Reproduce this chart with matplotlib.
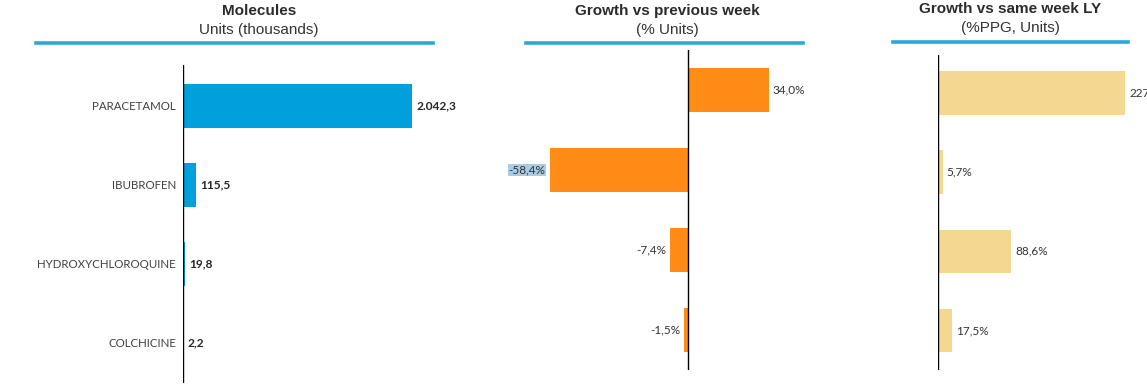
import matplotlib
matplotlib.use("Agg")
import matplotlib.pyplot as plt

categories = ["PARACETAMOL", "IBUBROFEN", "HYDROXYCHLOROQUINE", "COLCHICINE"]
units_thousands = [2042.3, 115.5, 19.8, 2.2]
units_labels = ["2.042,3", "115,5", "19,8", "2,2"]
growth_prev_week = [34.0, -58.4, -7.4, -1.5]
growth_prev_labels = ["34,0%", "-58,4%", "-7,4%", "-1,5%"]
growth_ly = [227.0, 5.7, 88.6, 17.5]
growth_ly_labels = ["227,0%", "5,7%", "88,6%", "17,5%"]

W, H = 1147, 389
fig = plt.figure(figsize=(W / 100, H / 100), dpi=100)
fig.patch.set_facecolor("white")

LABEL_FONT = ["Lato", "DejaVu Sans"]
TITLE_FONT = ["Liberation Sans", "DejaVu Sans"]
BLUE = "#00a0dc"
ORANGE = "#ff8c17"
TAN = "#f5d88f"
LINE_BLUE = "#29a9d9"
TXT = "#333333"


def px_axes(x0, y0, x1, y1):
    # pixel coords (top-left origin) -> figure fraction
    return fig.add_axes([x0 / W, 1 - y1 / H, (x1 - x0) / W, (y1 - y0) / H])


def clean(ax):
    for s in ax.spines.values():
        s.set_visible(False)
    ax.set_xticks([])
    ax.set_yticks([])
    ax.patch.set_alpha(0)


def header(title, sub, cx, ty, sy, lx0, lx1, ly):
    fig.text(cx / W, 1 - ty / H, title, ha="center", va="center",
             fontsize=11, fontweight="bold", color="#2b2b2b", family=TITLE_FONT)
    fig.text(cx / W, 1 - sy / H, sub, ha="center", va="center",
             fontsize=11, color="#333333", family=TITLE_FONT)
    fig.add_artist(plt.Line2D([lx0 / W, lx1 / W], [1 - ly / H, 1 - ly / H],
                              color=LINE_BLUE, lw=2.6, transform=fig.transFigure))


# Panel 1
ax1 = px_axes(183, 65, 470, 383)
clean(ax1)
scale1 = 229 / 2042.3
ax1.set_xlim(0, (470 - 183) / scale1)
ax1.set_ylim(3.506, -0.519)
ypos = list(range(len(categories)))
ax1.barh(ypos, units_thousands, height=0.557, color=BLUE)
ax1.axvline(0, color="black", lw=1)
for i, (v, lab) in enumerate(zip(units_thousands, units_labels)):
    ax1.text(v + 4 / scale1, i, lab, ha="left", va="center", fontsize=8.6,
             fontweight="bold", color="#262626", family=LABEL_FONT)
    ax1.text(-7 / scale1, i, categories[i], ha="right", va="center", fontsize=8.3,
             color="#404040", family=LABEL_FONT, clip_on=False)
header("Molecules", "Units (thousands)", 259, 11, 30, 36, 433, 43)

# Panel 2
ax2 = px_axes(500, 50, 830, 370)
clean(ax2)
scale2 = 2.37
ax2.set_xlim(-(688 - 500) / scale2, (830 - 688) / scale2)
ax2.set_ylim(3.5, -0.5)
ax2.barh(ypos, growth_prev_week, height=0.55, color=ORANGE)
ax2.axvline(0, color="black", lw=1)
for i, (v, lab) in enumerate(zip(growth_prev_week, growth_prev_labels)):
    if v >= 0:
        ax2.text(v + 4 / scale2, i, lab, ha="left", va="center", fontsize=8.5,
                 color=TXT, family=LABEL_FONT)
    else:
        kw = {}
        if i == 1:
            kw["bbox"] = dict(boxstyle="square,pad=0.05", fc="#a9cbe3", ec="none")
        ax2.text(v - 4 / scale2, i, lab, ha="right", va="center", fontsize=8.5,
                 color=TXT, family=LABEL_FONT, **kw)
header("Growth vs previous week", "(% Units)", 667, 11, 30, 526, 803, 43)

# Panel 3
ax3 = px_axes(938, 55, 1147, 370)
clean(ax3)
scale3 = 0.824
ax3.set_xlim(0, (1147 - 938) / scale3)
ax3.set_ylim(3.5, -0.48)
ax3.barh(ypos, growth_ly, height=0.55, color=TAN)
ax3.axvline(0, color="black", lw=1)
for i, (v, lab) in enumerate(zip(growth_ly, growth_ly_labels)):
    ax3.text(v + 4 / scale3, i, lab, ha="left", va="center", fontsize=8.5,
             color=TXT, family=LABEL_FONT, clip_on=False)
header("Growth vs same week LY", "(%PPG, Units)", 1010, 9, 28, 893, 1128, 42)

fig.savefig("out.png", dpi=100)
